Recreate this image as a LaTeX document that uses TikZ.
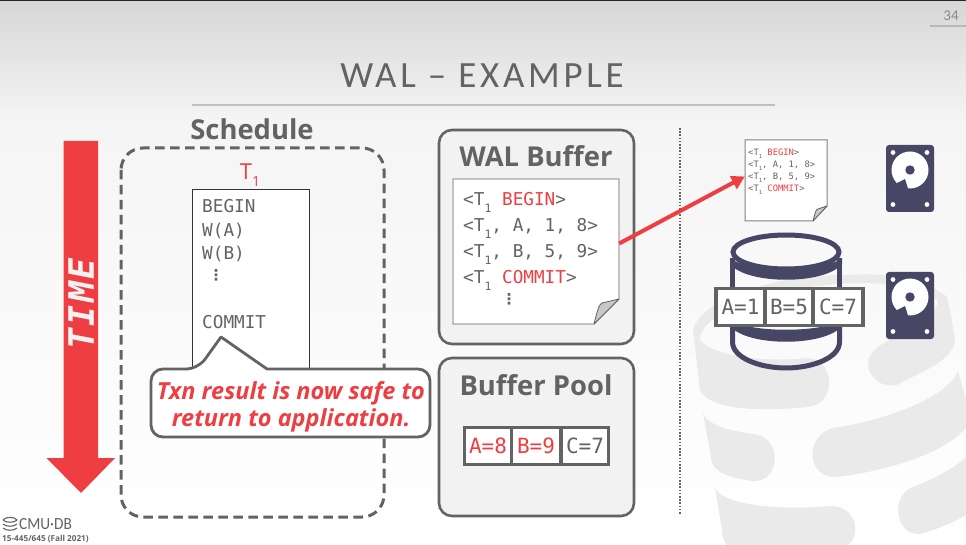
\documentclass[tikz,border=0pt]{standalone}
\usepackage{fontspec}
\setmainfont{Open Sans}
\setmonofont{DejaVu Sans Mono}
\newfontfamily\titlefont[LetterSpace=10]{Carlito}
\newfontfamily\pagefont{Carlito}
\newfontfamily\timefont[LetterSpace=6]{DejaVu Sans Mono}
\newfontfamily\dotsfont{DejaVu Sans}
\usetikzlibrary{calc,arrows.meta}
\definecolor{slidegray}{HTML}{636363}
\definecolor{slidered}{HTML}{EF3E42}
\definecolor{disknavy}{HTML}{474765}
\definecolor{logogray}{HTML}{EAEAEA}
\definecolor{panelgray}{HTML}{F2F2F2}
\definecolor{foldgray}{HTML}{C8C8C8}
\tikzset{
  x=1pt,y=-1pt,
  panel/.style={draw=slidegray,line width=2.6pt,fill=panelgray,rounded corners=13pt},
  heading/.style={font=\bfseries\fontsize{27.4}{27}\selectfont,text=slidegray,inner sep=0pt},
  mono/.style={font=\ttfamily\fontsize{17.7}{17.7}\selectfont,text=slidegray,inner sep=0pt,anchor=west},
  dotsmark/.style={font=\dotsfont\bfseries\fontsize{15}{15}\selectfont,text=slidegray,inner sep=0pt},
  tinymono/.style={font=\ttfamily\fontsize{8.8}{8.8}\selectfont,text=slidegray,inner sep=0pt,anchor=west},
  cell/.style={draw=slidegray,line width=3.1pt,fill=white,minimum height=37pt,inner sep=0pt,font=\ttfamily\fontsize{21}{21}\selectfont,text=slidegray},
  note/.style={draw=slidegray,fill=white,line width=.8pt},
  fold/.style={draw=slidegray,fill=foldgray,line width=.8pt,line join=round},
  bgshape/.style={fill=logogray,draw=none},
  cyl/.style={draw=disknavy,line width=5pt},
  anchorbox/.style={inner sep=0pt,draw=none,fill=none},
  disk/.pic={
    \fill[disknavy,rounded corners=3pt] (-24,-33.5) rectangle (24,33.5);
    \fill[white] (0,-8.5) circle[radius=18.5pt];
    \fill[disknavy] (0,-8.5) circle[radius=4.7pt];
    \fill[disknavy] (-5,0.5) -- (-14,5) -- (-9,12) -- (-1,12) -- (-2,10) -- cycle;
    \foreach \dx in {-17,17}{\foreach \dy in {-26,26}{\fill[white] (\dx,\dy) circle[radius=2.4pt];}}
  }
}
\newcommand{\redw}[1]{\textcolor{slidered}{#1}}
\newcommand{\subone}{\raisebox{-.4em}{\fontsize{11.5}{11.5}\selectfont 1}}
\newcommand{\subbig}{\raisebox{-.35em}{\fontsize{14}{14}\selectfont 1}}
\newcommand{\tsub}{\raisebox{-.3em}{\fontsize{5.6}{5.6}\selectfont 1}}
\begin{document}
\begin{tikzpicture}
\useasboundingbox (0,0) rectangle (966,545);
% background
\shade[top color=black!16,bottom color=black!4,draw=none] (0,0) rectangle (966,120);
\shade[top color=black!4,bottom color=white,draw=none] (0,120) rectangle (966,545);
\fill[black!85] (0,0) rectangle (966,1);
% logo in background
\path[bgshape] (693,330) .. controls (700,300) and (770,275) .. (847,275) .. controls (880,273) and (920,275) .. (947,297) .. controls (950,310) and (953,325) .. (955,340) .. controls (952,362) and (920,372) .. (897,385) .. controls (875,390) and (860,365) .. (873,352) .. controls (880,340) and (930,325) .. (938,303) .. controls (937,293) and (900,284) .. (867,283) .. controls (780,283) and (700,310) .. (700,340) .. controls (715,358) and (770,362) .. (807,358) .. controls (835,358) and (838,405) .. (807,407) .. controls (770,411) and (710,412) .. (700,390) -- cycle;
\path[bgshape] (703,413) .. controls (707,425) and (730,431) .. (753,434) .. controls (782,436) and (782,482) .. (753,481) .. controls (735,479) and (715,473) .. (712,463) -- cycle;
\path[bgshape] (715,487) .. controls (720,505) and (780,511) .. (830,506) .. controls (860,506) and (860,540) .. (847,545) -- (727,545) .. controls (723,540) and (722,535) .. (722,530) -- cycle;
\path[bgshape] (958,371) .. controls (950,395) and (890,420) .. (833,428) .. controls (805,435) and (805,478) .. (837,477) .. controls (880,472) and (945,455) .. (966,427) -- (966,400) -- cycle;
\path[bgshape] (966,457) .. controls (950,472) and (930,480) .. (913,487) .. controls (890,495) and (895,536) .. (920,534) .. controls (935,530) and (955,522) .. (966,515) -- cycle;
% page number
\node[font=\pagefont\fontsize{15}{15}\selectfont,text=slidegray!75,inner sep=0pt] (pnum) at (951,16) {34};
\fill[black!28] (930,25.5) rectangle (966,27);
% title
\node[font=\titlefont\fontsize{37}{37}\selectfont,text=slidegray,inner sep=0pt] (title) at (482,76) {WAL – EXAMPLE};
\fill[black!25] (192,104) rectangle (775,106);
% time arrow
\path[fill=slidered] (63.5,141) -- (98,141) -- (98,458) -- (115,458) -- (81,493) -- (46.5,458) -- (63.5,458) -- cycle;
\node[font=\timefont\bfseries\itshape\fontsize{35}{35}\selectfont,text=black!5,rotate=90,inner sep=0pt] (time) at (81,304) {TIME};
% schedule
\draw[draw=slidegray,line width=3pt,dash pattern=on 9.5pt off 5.5pt,rounded corners=22pt] (121,148) rectangle (384,517);
\node[heading] (schedule) at (252,129) {Schedule};
\node[font=\fontsize{22}{22}\selectfont,text=slidered,inner sep=0pt] (t1) at (250,175) {T\subbig};
\node[draw=black!80,fill=white,line width=.8pt,minimum width=117pt,minimum height=210pt,inner sep=0pt] (txn) at (250.5,294) {};
\node[mono] (begin) at (202,206) {BEGIN};
\node[mono] (wa) at (202,231) {W(A)};
\node[mono] (wb) at (202,254) {W(B)};
\node[dotsmark] (sdots) at (216,275) {⋮};
\node[mono] (commit) at (202,322) {COMMIT};
% callout
\path[draw=slidegray,fill=white,line width=2.8pt,line join=round]
  [sharp corners] (198,369) -- (221,337) -- (267,369) [rounded corners=12pt] -- (430,369) -- (430,437) -- (151,437) -- (151,369) -- cycle;
\node[font=\bfseries\itshape\fontsize{23.5}{26.5}\selectfont,text=slidered,align=center,inner sep=0pt] (safe) at (291,407) {Txn result is now safe to\\return to application.};
% WAL buffer
\draw[panel] (439,130) rectangle (634,344);
\node[heading] (walh) at (536,156) {WAL Buffer};
\node[anchorbox,minimum width=166pt,minimum height=145pt] (walpage) at (536,251.5) {};
\path[note] (453,179) -- (619,179) -- (619,299) -- (594,324) -- (453,324) -- cycle;
\path[fold] (619,299) -- (594,324) .. controls (597,312) and (599,304) .. (602,303) -- cycle;
\node[mono] (l1) at (463,202) {<T\subone{} \redw{BEGIN}>};
\node[mono] (l2) at (463,228) {<T\subone{}, A, 1, 8>};
\node[mono] (l3) at (463,254) {<T\subone{}, B, 5, 9>};
\node[mono] (l4) at (463,280) {<T\subone{} \redw{COMMIT}>};
\node[dotsmark] (ldots) at (509,299) {⋮};
% buffer pool
\draw[panel] (439,358) rectangle (634,516);
\node[heading] (bufh) at (536,385) {Buffer Pool};
\node[cell,minimum width=47pt,text=slidered] (a8) at (488,446) {A=8};
\node[cell,minimum width=49pt,text=slidered] (b9) at (536,446) {B=9};
\node[cell,minimum width=47pt] (c7) at (585,446) {C=7};
% divider
\coordinate (d1) at (680,128);
\coordinate (d2) at (680,515);
\draw[slidegray,line width=1.6pt,dash pattern=on 1.6pt off 1.6pt] (d1) -- (d2);
% log page on disk
\node[anchorbox,minimum width=82pt,minimum height=81pt] (logpage) at (786,180.5) {};
\path[draw=slidegray!80,fill=white,line width=1pt] (745,140) -- (827,140) -- (827,206) -- (813,221) -- (745,221) -- cycle;
\path[fold] (827,206) -- (813,221) .. controls (815,213) and (816,209) .. (818,209) -- cycle;
\node[tinymono] (m1) at (748,154) {<T\tsub{} \redw{BEGIN}>};
\node[tinymono] (m2) at (748,166) {<T\tsub{}, A, 1, 8>};
\node[tinymono] (m3) at (748,178) {<T\tsub{}, B, 5, 9>};
\node[tinymono] (m4) at (748,190) {<T\tsub{} \redw{COMMIT}>};
% connector
\draw[slidered,line width=4pt,-{Triangle[length=13pt,width=14pt]}] ($(walpage.east)+(0,-8)$) -- ($(logpage.west)+(0,-4)$);
% database cylinder
\draw[cyl] (786,252) ellipse[x radius=53,y radius=17];
\path[fill=disknavy] (730,258) .. controls (745,272) and (827,272) .. (842,258) -- (842,264) .. controls (825,285) and (747,285) .. (730,264) -- cycle;
\draw[cyl] (732.5,258) -- (732.5,300);
\draw[cyl] (839.5,258) -- (839.5,300);
\path[fill=disknavy] (730,320) .. controls (750,333) and (822,333) .. (842,320) -- (842,326) .. controls (825,347) and (747,347) .. (730,326) -- cycle;
\draw[cyl] (732.5,320) -- (732.5,342) .. controls (732.5,358) and (760,368) .. (786,368) .. controls (812,368) and (839.5,358) .. (839.5,342) -- (839.5,320);
\node[cell,minimum width=49pt] (a1) at (740.5,307) {A=1};
\node[cell,minimum width=48pt] (b5) at (789,307) {B=5};
\node[cell,minimum width=50pt] (c7d) at (838,307) {C=7};
% disks
\pic at (910,178.5) {disk};
\pic at (910,305.5) {disk};
% cmu logo
\draw[slidegray,line width=1.1pt] (3,520) .. controls (5,516.5) and (15,516.5) .. (17,520) .. controls (15,523) and (5,523) .. (3,520) (3,524) .. controls (6,527) and (14,527) .. (17,524) (3,528) .. controls (6,531) and (14,531) .. (17,528);
\node[font=\pagefont\fontsize{17}{17}\selectfont,text=slidegray,inner sep=0pt,anchor=west,xscale=.9] (cmu) at (19,524) {CMU·DB};
\node[font=\bfseries\fontsize{8.2}{8.2}\selectfont,text=slidegray,inner sep=0pt,anchor=west] (course) at (2,539.5) {15-445/645 (Fall 2021)};
\end{tikzpicture}
\end{document}
